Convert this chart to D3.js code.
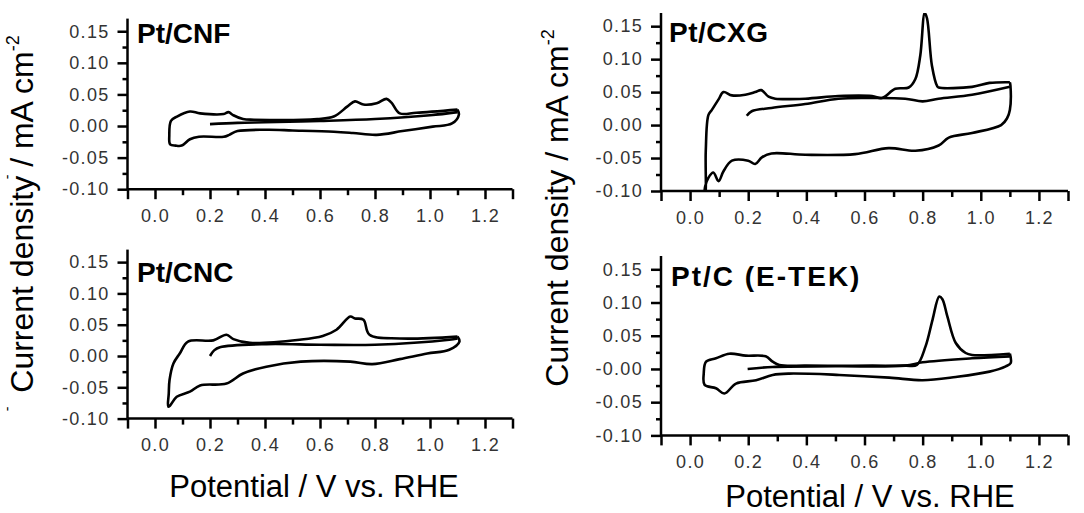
<!DOCTYPE html>
<html><head><meta charset="utf-8">
<script src="https://cdn.jsdelivr.net/npm/d3@7"></script>
<style>
body{margin:0;background:#fff;}
svg{display:block;}
</style></head>
<body>
<svg id="chart" width="1084" height="513"></svg>
<script>
// ---- data ----
const xMajor = [-0.1,0.0,0.2,0.4,0.6,0.8,1.0,1.2,1.3];
const xLabels = ["","0.0","0.2","0.4","0.6","0.8","1.0","1.2",""];
const xMinor = [0.1,0.3,0.5,0.7,0.9,1.1];
const yMajor = [0.15,0.10,0.05,0.00,-0.05,-0.10];
const yLabels = ["0.15","0.10","0.05","0.00","-0.05","-0.10"];
const yLabelsEtek = ["0.15","0.10","0.05","-0.00","-0.05","-0.10"];
const yMinor = [0.125,0.075,0.025,-0.025,-0.075];
const titles = ["Pt/CNF","Pt/CNC","Pt/CXG","Pt/C (E-TEK)"];

// Pt/CNF
const cnfLoop = [[1.1,0.026],[1.105,0.018],[1.08,0.004],[1.01,-0.001],[0.9,-0.008],[0.806,-0.014],[0.72,-0.011],[0.65,-0.009],[0.5,-0.007],[0.41,-0.006],[0.3,-0.008],[0.27,-0.014],[0.25,-0.017],[0.16,-0.017],[0.127,-0.021],[0.097,-0.031],[0.075,-0.031],[0.055,-0.029],[0.052,-0.015],[0.058,0.008],[0.08,0.015],[0.127,0.023],[0.164,0.02],[0.25,0.019],[0.267,0.022],[0.285,0.017],[0.32,0.011],[0.36,0.01],[0.59,0.011],[0.65,0.015],[0.7,0.031],[0.727,0.039],[0.758,0.034],[0.806,0.036],[0.842,0.043],[0.86,0.037],[0.89,0.02],[0.95,0.021],[1.1,0.026]];
const cnfStart = [[0.2,0.003],[0.3,0.005],[0.4,0.006],[0.6,0.008],[0.8,0.011],[1.0,0.017],[1.1,0.022]];

// Pt/CNC
const cncLoop = [[1.1,0.031],[1.107,0.023],[1.07,0.01],[0.99,0.004],[0.89,-0.005],[0.79,-0.013],[0.71,-0.009],[0.53,-0.009],[0.405,-0.017],[0.32,-0.028],[0.26,-0.044],[0.164,-0.047],[0.127,-0.057],[0.079,-0.065],[0.055,-0.079],[0.048,-0.081],[0.05,-0.06],[0.053,-0.038],[0.067,-0.012],[0.09,0.004],[0.12,0.023],[0.212,0.025],[0.26,0.034],[0.285,0.027],[0.345,0.021],[0.526,0.026],[0.61,0.032],[0.66,0.042],[0.71,0.063],[0.727,0.06],[0.758,0.058],[0.78,0.034],[0.89,0.028],[1.1,0.031]];
const cncStart = [[0.2,0.0],[0.215,0.009],[0.236,0.014],[0.405,0.019],[0.6,0.018],[0.8,0.018],[1.07,0.026],[1.1,0.028]];

// Pt/CXG
const cxgLoop = [[1.1,0.065],[1.102,0.06],[1.1,0.023],[1.09,0.01],[1.07,0.0],[0.97,-0.012],[0.89,-0.019],[0.855,-0.031],[0.775,-0.039],[0.683,-0.035],[0.568,-0.044],[0.396,-0.045],[0.28,-0.043],[0.247,-0.049],[0.224,-0.059],[0.2,-0.054],[0.144,-0.054],[0.115,-0.07],[0.098,-0.085],[0.08,-0.072],[0.063,-0.08],[0.052,-0.093],[0.05,-0.11],[0.052,-0.11],[0.054,-0.039],[0.063,0.015],[0.075,0.023],[0.098,0.039],[0.115,0.05],[0.144,0.045],[0.19,0.046],[0.224,0.05],[0.245,0.053],[0.27,0.043],[0.293,0.04],[0.396,0.04],[0.51,0.044],[0.626,0.044],[0.66,0.041],[0.706,0.055],[0.752,0.057],[0.775,0.07],[0.792,0.106],[0.807,0.17],[0.815,0.162],[0.832,0.09],[0.85,0.059],[0.855,0.057],[0.97,0.058],[1.03,0.064],[1.1,0.065]];
const cxgStart = [[0.195,0.014],[0.212,0.021],[0.28,0.026],[0.396,0.032],[0.51,0.04],[0.626,0.041],[0.74,0.04],[0.8,0.036],[0.855,0.04],[0.97,0.046],[1.1,0.058]];

// Pt/C (E-TEK)
const etekLoop = [[1.1,0.023],[1.103,0.009],[1.086,0.004],[1.03,-0.004],[0.914,-0.012],[0.8,-0.017],[0.685,-0.013],[0.513,-0.009],[0.341,-0.007],[0.284,-0.009],[0.227,-0.017],[0.158,-0.022],[0.118,-0.037],[0.089,-0.029],[0.05,-0.024],[0.047,-0.007],[0.055,0.011],[0.089,0.016],[0.135,0.023],[0.192,0.02],[0.26,0.019],[0.284,0.011],[0.307,0.006],[0.4,0.005],[0.628,0.005],[0.742,0.005],[0.78,0.006],[0.81,0.034],[0.834,0.074],[0.857,0.109],[0.868,0.105],[0.885,0.079],[0.914,0.039],[0.948,0.024],[0.97,0.021],[1.1,0.023]];
const etekStart = [[0.198,0.0],[0.284,0.003],[0.5,0.004],[0.74,0.005],[0.8,0.01],[0.97,0.016],[1.1,0.019]];

// ---- layout ----
const panels = [
  {loop:cnfLoop,start:cnfStart,title:titles[0],yl:yLabels, x0:127.5,x1:512.5, yTop:18.6, yBot:189.2, tx:137, ty:43, ls:0},
  {loop:cncLoop,start:cncStart,title:titles[1],yl:yLabels, x0:127.5,x1:512.5, yTop:249.6, yBot:418.6, tx:137, ty:282, ls:0},
  {loop:cxgLoop,start:cxgStart,title:titles[2],yl:yLabels, x0:661,x1:1068, yTop:13, yBot:191, tx:669, ty:42, ls:0.5},
  {loop:etekLoop,start:etekStart,title:titles[3],yl:yLabelsEtek, x0:661,x1:1068, yTop:256, yBot:435.4, tx:671, ty:286, ls:2}
];

const svg = d3.select("#chart");
const FONT = "'Liberation Sans', Arial, sans-serif";

panels.forEach((p,i)=>{
  const x = d3.scaleLinear().domain([-0.1,1.3]).range([p.x0,p.x1]);
  const y = d3.scaleLinear().domain([-0.10,0.17]).range([p.yBot,p.yTop]);
  const g = svg.append("g");
  const cid = "clip"+i;
  svg.append("clipPath").attr("id",cid).append("rect")
    .attr("x",p.x0).attr("y",p.yTop).attr("width",p.x1-p.x0).attr("height",p.yBot-p.yTop);

  const line = d3.line().x(d=>x(d[0])).y(d=>y(d[1])).curve(d3.curveCatmullRom.alpha(0.5));
  const cg = g.append("g").attr("clip-path","url(#"+cid+")");
  [p.loop,p.start].forEach(d=>{
    cg.append("path").attr("d",line(d)).attr("fill","none")
      .attr("stroke","#000").attr("stroke-width",2.6).attr("stroke-linejoin","round");
  });

  // x axis
  const xa = g.append("g").attr("transform","translate(0,"+p.yBot+")")
    .call(d3.axisBottom(x).tickValues(xMajor).tickFormat((d,k)=>xLabels[k]).tickSize(10).tickPadding(10));
  const xm = g.append("g").attr("transform","translate(0,"+p.yBot+")")
    .call(d3.axisBottom(x).tickValues(xMinor).tickFormat("").tickSize(6));
  // y axis
  const ya = g.append("g").attr("transform","translate("+p.x0+",0)")
    .call(d3.axisLeft(y).tickValues(yMajor).tickFormat((d,k)=>p.yl[k]).tickSize(10).tickPadding(8));
  const ym = g.append("g").attr("transform","translate("+p.x0+",0)")
    .call(d3.axisLeft(y).tickValues(yMinor).tickFormat("").tickSize(5));
  [xa,xm,ya,ym].forEach(a=>{
    a.select(".domain").attr("stroke","#000").attr("stroke-width",2.5);
    a.selectAll(".tick line").attr("stroke","#000").attr("stroke-width",2.5);
    a.selectAll("text").attr("font-family",FONT).attr("font-size",18)
      .attr("letter-spacing","1.3px").attr("fill","#333");
  });
  xa.select(".domain").attr("d","M"+p.x0+",0H"+p.x1);
  xm.select(".domain").remove();
  ya.select(".domain").attr("d","M0,"+p.yBot+"V"+p.yTop);
  ym.select(".domain").remove();

  g.append("text").attr("x",p.tx).attr("y",p.ty).text(p.title)
    .attr("font-family",FONT).attr("font-weight","bold").attr("font-size",28)
    .attr("letter-spacing",p.ls+"px").attr("fill","#000");
});

// axis titles
function yTitle(cx, cy){
  const t = svg.append("text").attr("transform","translate("+cx+","+cy+") rotate(-90)")
    .attr("text-anchor","middle").attr("font-family",FONT).attr("font-size",32).attr("fill","#000");
  t.append("tspan").text("Current density / mA cm");
  t.append("tspan").attr("font-size",18).attr("dy",-14).text("-2");
}
yTitle(33, 214);
yTitle(568, 208);

function xTitle(cx, by){
  svg.append("text").attr("x",cx).attr("y",by).attr("text-anchor","middle")
    .attr("font-family",FONT).attr("font-size",31).attr("fill","#000").text("Potential / V vs. RHE");
}
xTitle(314, 497);
xTitle(870, 507);

// small stray marks in the original
[[12,177],[12,409]].forEach(d=>{
  svg.append("text").attr("transform","translate("+d[0]+","+d[1]+") rotate(-90)")
    .attr("text-anchor","middle").attr("font-family",FONT).attr("font-size",14).text("-");
});
</script>
</body></html>
